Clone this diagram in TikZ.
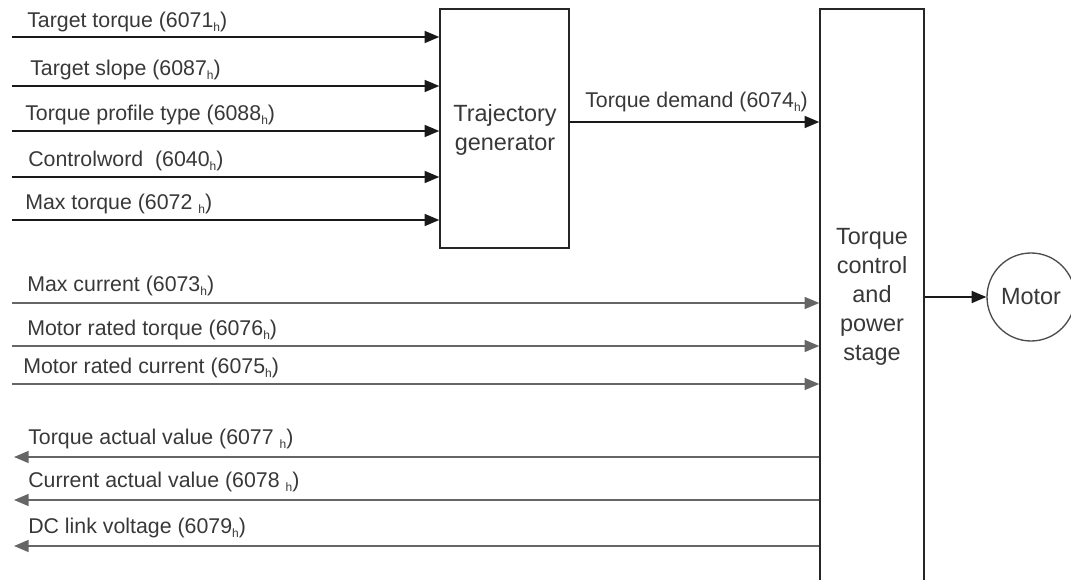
\documentclass[tikz,border=0pt]{standalone}
\usepackage{fontspec}
\setmainfont{Liberation Sans}
\usetikzlibrary{arrows.meta}
\newcommand{\hsub}{\raisebox{-0.3ex}{\fontsize{9}{10}\selectfont h}}
\begin{document}
\begin{tikzpicture}[x=0.75pt,y=-0.75pt,
  lbl/.style={anchor=base west, font=\fontsize{16}{18}\selectfont, text=black!78, inner sep=0pt},
  blk/.style={draw=black!85, line width=1.1pt, inner sep=0pt},
  btxt/.style={font=\fontsize{17.6}{21.8}\selectfont, text=black!78, align=center, inner sep=0pt},
  sig/.style={line width=1.2pt, draw=black!90, -{Triangle[length=11pt,width=9pt]}},
  sigg/.style={sig, draw=black!60}]
\useasboundingbox (0,0) rectangle (1071,580);
\clip (0,0) rectangle (1071,580);
% blocks
\node[blk, minimum width=96.75pt, minimum height=179.25pt] (tg) at (504.5,128.5) {};
\node[btxt] (tgt) at (505,130) {Trajectory\\generator};
\node[blk, minimum width=78pt, minimum height=443.25pt] (ps) at (872,304.5) {};
\node[btxt] (pst) at (872,297) {Torque\\control\\and\\power\\stage};
\node[draw=black!70, line width=1pt, circle, minimum size=66pt, inner sep=0pt,
      font=\fontsize{17.6}{21.8}\selectfont, text=black!78] (motor) at (1031,297) {Motor};
% input coordinates
\coordinate (i1) at (12,37);
\coordinate (i2) at (12,86);
\coordinate (i3) at (12,131);
\coordinate (i4) at (12,177);
\coordinate (i5) at (12,220);
\coordinate (j1) at (12,303);
\coordinate (j2) at (12,346);
\coordinate (j3) at (12,384);
\coordinate (o1) at (14,457);
\coordinate (o2) at (14,500);
\coordinate (o3) at (14,546);
% input arrows
\draw[sig] (i1) -- (i1 -| tg.west);
\draw[sig] (i2) -- (i2 -| tg.west);
\draw[sig] (i3) -- (i3 -| tg.west);
\draw[sig] (i4) -- (i4 -| tg.west);
\draw[sig] (i5) -- (i5 -| tg.west);
\draw[sig] (tg.east |- 0,122) -- (ps.west |- 0,122);
\draw[sigg] (j1) -- (j1 -| ps.west);
\draw[sigg] (j2) -- (j2 -| ps.west);
\draw[sigg] (j3) -- (j3 -| ps.west);
\draw[sigg] (o1 -| ps.west) -- (o1);
\draw[sigg] (o2 -| ps.west) -- (o2);
\draw[sigg] (o3 -| ps.west) -- (o3);
\draw[sig] (ps.east |- motor.west) -- (motor.west);
% labels
\node[lbl] (l1) at (27,28) {Target torque (6071\hsub)};
\node[lbl] (l2) at (30,76) {Target slope (6087\hsub)};
\node[lbl] (l3) at (25,121) {Torque profile type (6088\hsub)};
\node[lbl] (l4) at (28,167) {Controlword \ (6040\hsub)};
\node[lbl] (l5) at (25,210) {Max torque (6072 \hsub)};
\node[lbl] (ld) at (585,108) {Torque demand (6074\hsub)};
\node[lbl] (m1) at (27,292) {Max current (6073\hsub)};
\node[lbl] (m2) at (27,336) {Motor rated torque (6076\hsub)};
\node[lbl] (m3) at (23,374) {Motor rated current (6075\hsub)};
\node[lbl] (n1) at (28,445) {Torque actual value (6077 \hsub)};
\node[lbl] (n2) at (28,488) {Current actual value (6078 \hsub)};
\node[lbl] (n3) at (28,534) {DC link voltage (6079\hsub)};
\end{tikzpicture}
\end{document}
